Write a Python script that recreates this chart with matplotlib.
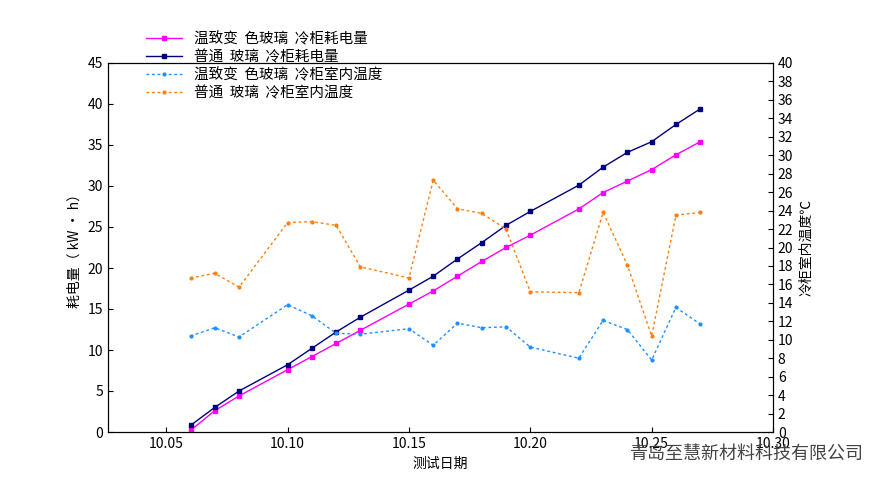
import matplotlib
matplotlib.use("Agg")
import matplotlib.pyplot as plt
plt.rcParams['font.family'] = ['Noto Sans CJK SC', 'DejaVu Sans']

dates = [10.06,10.07,10.08,10.10,10.11,10.12,10.13,10.15,10.16,10.17,10.18,10.19,10.20,10.22,10.23,10.24,10.25,10.26,10.27]
energy_smart = [0.2,2.6,4.4,7.6,9.2,10.8,12.4,15.6,17.2,19.0,20.8,22.5,24.0,27.2,29.2,30.6,32.0,33.8,35.4]
energy_normal = [0.8,3.0,5.0,8.2,10.2,12.2,14.0,17.3,19.0,21.1,23.1,25.2,26.9,30.1,32.3,34.1,35.4,37.5,39.4]
temp_smart = [10.4,11.3,10.3,13.8,12.6,10.7,10.6,11.2,9.4,11.8,11.3,11.4,9.2,8.0,12.1,11.1,7.8,13.5,11.7]
temp_normal = [16.7,17.2,15.7,22.7,22.8,22.4,17.9,16.7,27.3,24.2,23.7,22.0,15.2,15.1,23.8,18.1,10.4,23.5,23.8]
xticks = [10.05,10.10,10.15,10.20,10.25,10.30]
xticklabels = ['10.05','10.10','10.15','10.20','10.25','10.30']

fig = plt.figure(figsize=(8.95,4.93), dpi=100)
ax = fig.add_axes([108/895, 1-432/493, (773-108)/895, (432-63)/493])
ax2 = ax.twinx()
l1, = ax.plot(dates, energy_smart, color='#ff00ff', marker='s', ms=3.5, lw=1, label='温致变  色玻璃  冷柜耗电量')
l2, = ax.plot(dates, energy_normal, color='#000080', marker='s', ms=3.5, lw=1, label='普通  玻璃  冷柜耗电量')
l3, = ax2.plot(dates, temp_smart, color='#1e90ff', marker='o', ms=2, lw=1, ls=(0,(2,2)), label='温致变  色玻璃  冷柜室内温度')
l4, = ax2.plot(dates, temp_normal, color='#ff7f0e', marker='o', ms=2, lw=1, ls=(0,(2,2)), label='普通  玻璃  冷柜室内温度')
ax.set_xlim(10.026, 10.30)
ax.set_ylim(0,45)
ax2.set_ylim(0,40)
ax.set_xticks(xticks); ax.set_xticklabels(xticklabels)
ax.set_yticks(range(0,46,5))
ax2.set_yticks(range(0,41,2))
ax.set_ylabel('耗电量（ kW · h）')
ax2.set_ylabel('冷柜室内温度℃')
ax.set_xlabel('测试日期')
for a in (ax, ax2):
    a.tick_params(direction='in', labelsize=10)
fig.legend(handles=[l1,l2,l3,l4], loc='upper left', bbox_to_anchor=(140/895, 1-26/493),
           frameon=False, fontsize=10.5, handlelength=2.5, labelspacing=0.25, borderaxespad=0)
fig.text(0.965, 0.07, '青岛至慧新材料科技有限公司', ha='right', fontsize=13, color='#444444')
fig.savefig('out.png', dpi=100)
